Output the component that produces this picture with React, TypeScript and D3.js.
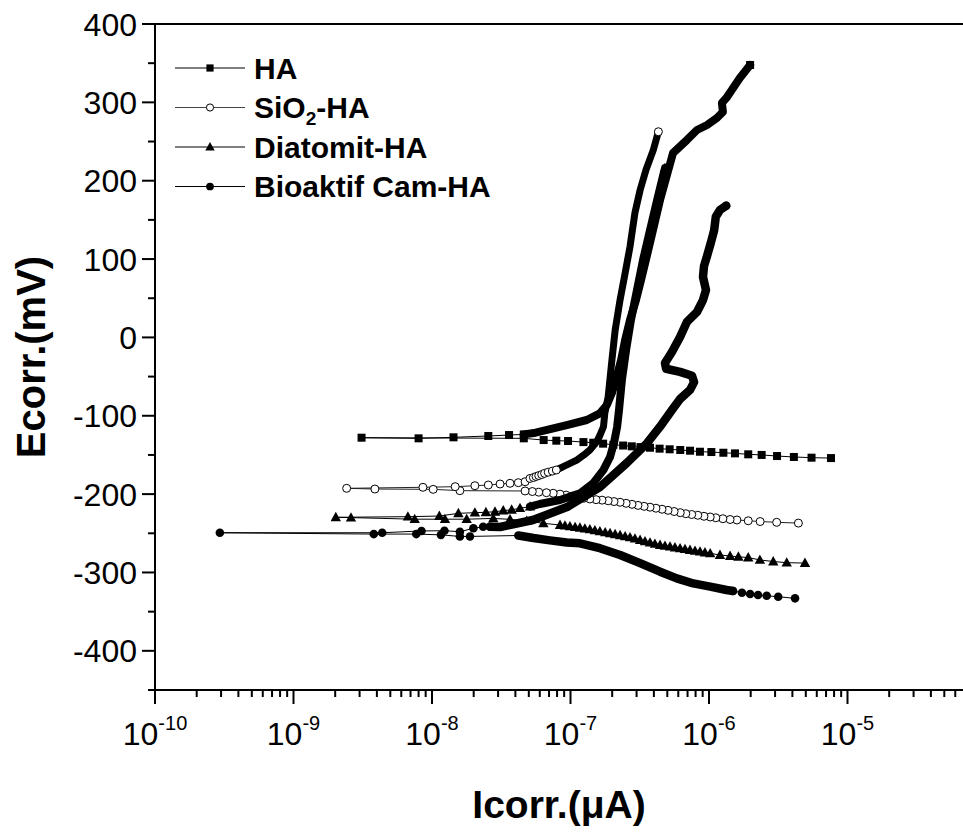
import React from 'react';
import * as d3 from 'd3';

type P = [number, number];

// ---- axis ticks / labels ----
const xTickExps = [-10, -9, -8, -7, -6, -5];
const yTickValues = [400, 300, 200, 100, 0, -100, -200, -300, -400];
const yMinorValues = [350, 250, 150, 50, -50, -150, -250, -350, -450];
const legendLabels = ['HA', 'SiO2-HA', 'Diatomit-HA', 'Bioaktif Cam-HA'];

// ---- HA (filled squares) ----
const haCathodic: P[] = [
  [7.6e-6, -154], [5.5e-6, -153.5], [4.1e-6, -152.6], [3.1e-6, -151.4], [2.4e-6, -150],
  [1.92e-6, -149.2], [1.54e-6, -148], [1.27e-6, -147.2], [1.04e-6, -146.3], [8.6e-7, -145.9],
  [7.3e-7, -144.6], [6.2e-7, -143.7], [5.2e-7, -142.8], [4.4e-7, -142], [3.75e-7, -140.8],
  [3.2e-7, -140], [2.77e-7, -139], [2.4e-7, -138], [2.04e-7, -137], [1.72e-7, -135.6],
  [1.46e-7, -134.4], [1.24e-7, -133.6], [9.6e-8, -132.2], [7.9e-8, -131.8], [6.4e-8, -131],
  [4.6e-8, -128.8], [3.1e-9, -128],
];
const haAnodicNear: P[] = [
  [8.0e-9, -128.8], [1.43e-8, -127.5], [2.55e-8, -125.8], [3.6e-8, -124.6], [4.6e-8, -123.8],
];
const haAnodicRise: P[] = [
  [5.6e-8, -121.6], [9.4e-8, -111.8], [1.31e-7, -105.4], [1.63e-7, -96.9], [1.83e-7, -86.3],
  [1.99e-7, -71], [2.17e-7, -48], [2.32e-7, -28.8], [2.48e-7, -3.3], [2.69e-7, 22.2],
  [2.97e-7, 47.7], [3.23e-7, 73.3], [3.57e-7, 105.2], [3.94e-7, 137.1], [4.43e-7, 175.4],
  [4.97e-7, 207.3], [5.5e-7, 235.4], [6.93e-7, 252], [8.19e-7, 264.7], [9.68e-7, 271.1],
  [1.14e-6, 280], [1.26e-6, 287.7], [1.24e-6, 299.2], [1.35e-6, 306.8], [1.67e-6, 331.1],
  [1.98e-6, 347.7],
];

// ---- SiO2-HA (open circles) ----
const sio2Cathodic: P[] = [
  [4.42e-6, -237], [3.08e-6, -236], [2.34e-6, -235], [1.92e-6, -234], [1.59e-6, -233],
  [1.42e-6, -232.4], [1.26e-6, -231.4], [1.12e-6, -230.2], [1.02e-6, -229.2], [9.2e-7, -228.3],
  [8.3e-7, -227], [7.5e-7, -226], [6.8e-7, -225], [6.2e-7, -223.7], [5.6e-7, -222.2],
  [5.06e-7, -220.7], [4.58e-7, -219.3], [4.14e-7, -218], [3.75e-7, -216.7], [3.4e-7, -215.6],
  [3.07e-7, -214.4], [2.78e-7, -213], [2.52e-7, -211.7], [2.28e-7, -210.4], [2.06e-7, -209.5],
  [1.87e-7, -208.5], [1.69e-7, -207.7], [1.53e-7, -207.1], [1.38e-7, -206.2], [1.25e-7, -205.2],
  [1.13e-7, -204], [1.03e-7, -202.7], [9.3e-8, -201.3], [8.4e-8, -200], [7.5e-8, -198.9],
  [6.7e-8, -198.2], [5.9e-8, -197.5], [5.3e-8, -196.7], [4.7e-8, -196], [1.59e-8, -195.6],
  [1.02e-8, -193.9], [3.87e-9, -193.5], [2.42e-9, -192.6],
];
const sio2AnodicNear: P[] = [
  [8.6e-9, -191.3], [1.47e-8, -190.5], [2.04e-8, -189.3], [2.55e-8, -188.4], [3.1e-8, -187.1],
  [3.66e-8, -186.2], [4.2e-8, -185.4], [4.7e-8, -184.2], [5.1e-8, -180], [5.4e-8, -178.8],
  [5.64e-8, -177.5], [5.9e-8, -176.3], [6.2e-8, -175], [6.5e-8, -173.5], [6.9e-8, -172],
  [7.4e-8, -170.6], [7.9e-8, -169.2],
];
const sio2AnodicRise: P[] = [
  [9.1e-8, -164], [1.11e-7, -156.5], [1.25e-7, -150], [1.38e-7, -143.7], [1.55e-7, -133],
  [1.63e-7, -125], [1.73e-7, -114], [1.77e-7, -96.5], [1.87e-7, -76], [1.98e-7, -33],
  [2.1e-7, 9], [2.28e-7, 48], [2.48e-7, 82], [2.69e-7, 116], [2.92e-7, 159],
  [3.18e-7, 188], [3.51e-7, 214], [3.96e-7, 239], [4.31e-7, 262.5],
];

// ---- Diatomit-HA (filled triangles) ----
const diaCathodic: P[] = [
  [4.93e-6, -288], [3.64e-6, -287.5], [2.91e-6, -286], [2.33e-6, -284], [1.92e-6, -281],
  [1.63e-6, -280], [1.42e-6, -279], [1.2e-6, -277.7], [1.02e-6, -275.6], [9.35e-7, -274.5],
  [8.61e-7, -273.5], [7.93e-7, -272.5], [7.29e-7, -271.3], [6.71e-7, -270.3], [6.18e-7, -269.2],
  [5.68e-7, -268.1], [5.23e-7, -267.1], [4.81e-7, -266.1], [4.43e-7, -265], [4.07e-7, -263.6],
  [3.75e-7, -262], [3.45e-7, -260.4], [3.18e-7, -258.6], [2.92e-7, -256.9], [2.69e-7, -255.3],
  [2.48e-7, -253.9], [2.28e-7, -252.6], [2.1e-7, -251.3], [1.93e-7, -250], [1.78e-7, -248.9],
  [1.63e-7, -247.6], [1.5e-7, -246.3], [1.38e-7, -245], [1.27e-7, -244], [1.17e-7, -243],
  [1.08e-7, -242.1], [9.91e-8, -241.2], [9.12e-8, -240.3], [8.4e-8, -239.4], [6.37e-8, -237.3],
  [4.83e-8, -234.3], [3.66e-8, -232.2], [2.77e-8, -231], [1.78e-8, -232], [1.24e-8, -232],
  [7.5e-9, -232], [2.6e-9, -230], [2.02e-9, -229.6],
];
const diaAnodicNear: P[] = [
  [6.7e-9, -228.8], [1.13e-8, -228], [1.55e-8, -224.5], [2.04e-8, -223.7], [2.45e-8, -223.2],
  [2.85e-8, -222.5], [3.27e-8, -221], [3.76e-8, -220], [4.32e-8, -218], [5.1e-8, -216],
];
const diaAnodicRise: P[] = [
  [6.0e-8, -212.6], [8.4e-8, -207.5], [1.17e-7, -199], [1.46e-7, -186], [1.73e-7, -169],
  [1.93e-7, -152.6], [2.06e-7, -134.8], [2.17e-7, -114.4], [2.24e-7, -92.7], [2.35e-7, -54.4],
  [2.52e-7, -16], [2.73e-7, 22], [3.02e-7, 60.5], [3.34e-7, 98.8], [3.75e-7, 137],
  [4.22e-7, 175], [4.58e-7, 201], [4.81e-7, 216],
];

// ---- Bioaktif Cam-HA (filled circles) ----
const bioCathodicTail: P[] = [
  [4.18e-6, -333], [3.16e-6, -331], [2.61e-6, -329.7], [2.26e-6, -328.8], [1.98e-6, -327.5],
  [1.73e-6, -325.8], [1.49e-6, -323.7],
];
const bioCathodicBand: P[] = [
  [1.34e-6, -322.4], [1.02e-6, -318], [7.7e-7, -314], [5.85e-7, -307.5], [4.43e-7, -299],
  [3.18e-7, -288], [2.28e-7, -277.7], [1.63e-7, -269], [1.17e-7, -262.8], [9.4e-8, -261.7],
  [7.1e-8, -259], [5.4e-8, -256], [4.2e-8, -252.8],
];
const bioCathodicNear: P[] = [
  [1.88e-8, -254], [1.59e-8, -254], [1.16e-8, -252], [7.7e-9, -251], [3.8e-9, -251],
  [2.94e-10, -249.3],
];
const bioAnodicNear: P[] = [
  [4.37e-9, -249.3], [8.4e-9, -247], [1.23e-8, -246.7], [1.59e-8, -248], [1.99e-8, -243.6],
  [2.34e-8, -241.6], [2.62e-8, -241.6],
];
const bioAnodicRise: P[] = [
  [3.1e-8, -242], [5.36e-8, -233], [9.44e-8, -216.5], [1.63e-7, -191], [2.56e-7, -160],
  [3.57e-7, -135], [4.43e-7, -114], [5.4e-7, -92.7], [6.18e-7, -78.6], [7.3e-7, -67],
  [7.8e-7, -57], [7.54e-7, -49], [6.18e-7, -44], [4.9e-7, -40], [4.81e-7, -32.7],
  [5.4e-7, -18.6], [6.18e-7, 0.5], [6.94e-7, 20], [8.19e-7, 32.4], [9.05e-7, 47.7],
  [9.51e-7, 60.5], [9.05e-7, 77], [9.2e-7, 91], [9.68e-7, 104], [1.03e-6, 120.5],
  [1.09e-6, 137], [1.12e-6, 154], [1.2e-6, 162.6], [1.33e-6, 168],
];

const FONT = "'Liberation Sans', Arial, Helvetica, sans-serif";
const W = 963;
const H = 835;

type MarkerType = 'square' | 'openCircle' | 'triangle' | 'circle';

function Marker({ t, cx, cy, s = 1 }: { t: MarkerType; cx: number; cy: number; s?: number }) {
  if (t === 'square') {
    const h = 4 * s;
    return <rect x={cx - h} y={cy - h} width={2 * h} height={2 * h} fill="#000" />;
  }
  if (t === 'openCircle') {
    return <circle cx={cx} cy={cy} r={4 * s} fill="#fff" stroke="#000" strokeWidth={1} />;
  }
  if (t === 'triangle') {
    const a = 5.2 * s;
    return <path d={`M${cx},${cy - a * 1.05}L${cx + a},${cy + a * 0.75}L${cx - a},${cy + a * 0.75}Z`} fill="#000" />;
  }
  return <circle cx={cx} cy={cy} r={4.3 * s} fill="#000" />;
}

export default function App() {
  const x = d3.scaleLog().domain([1e-10, 1e-4]).range([155, 155 + 6 * 138.5]);
  const y = d3.scaleLinear().domain([-450, 400]).range([690, 24]);
  const line = d3.line<P>().x(d => x(d[0])).y(d => y(d[1]));

  const plotRight = 963;

  const series = [
    {
      marker: 'square' as MarkerType, lineColor: '#000',
      all: [...haCathodic, ...haAnodicNear, ...haAnodicRise],
      marked: [...haCathodic, ...haAnodicNear],
      bands: [[haAnodicNear[haAnodicNear.length - 1], ...haAnodicRise]],
      bandWidth: 8,
    },
    {
      marker: 'openCircle' as MarkerType, lineColor: '#222',
      all: [...sio2Cathodic, ...sio2AnodicNear, ...sio2AnodicRise],
      marked: [...sio2Cathodic, ...sio2AnodicNear],
      bands: [[sio2AnodicNear[sio2AnodicNear.length - 1], ...sio2AnodicRise]],
      bandWidth: 7,
    },
    {
      marker: 'triangle' as MarkerType, lineColor: '#000',
      all: [...diaCathodic, ...diaAnodicNear, ...diaAnodicRise],
      marked: [...diaCathodic, ...diaAnodicNear],
      bands: [[diaAnodicNear[diaAnodicNear.length - 1], ...diaAnodicRise]],
      bandWidth: 8,
    },
    {
      marker: 'circle' as MarkerType, lineColor: '#000',
      all: [...bioCathodicTail, ...bioCathodicBand, ...bioCathodicNear, ...bioAnodicNear, ...bioAnodicRise],
      marked: [...bioCathodicTail, ...bioCathodicNear, ...bioAnodicNear],
      bands: [
        [bioCathodicTail[bioCathodicTail.length - 1], ...bioCathodicBand],
        [bioAnodicNear[bioAnodicNear.length - 1], ...bioAnodicRise],
      ],
      bandWidth: 8.5,
    },
  ];

  const xMinor: number[] = [];
  for (let e = -10; e <= -5; e++) {
    for (let k = 2; k <= 9; k++) {
      const v = k * Math.pow(10, e);
      if (x(v) <= plotRight) xMinor.push(v);
    }
  }

  const legendY = [68, 107.5, 147, 186.5];
  const legendMarkers: MarkerType[] = ['square', 'openCircle', 'triangle', 'circle'];

  return (
    <svg width={W} height={H} style={{ position: 'absolute', left: 0, top: 0, background: '#fff' }}
      fontFamily={FONT}>
      <rect x={0} y={0} width={W} height={H} fill="#fff" />

      {series.map((s, i) => (
        <g key={i}>
          <path d={line(s.all) || ''} fill="none" stroke={s.lineColor} strokeWidth={1} />
          {s.bands.map((b, k) => (
            <path key={k} d={line(b as P[]) || ''} fill="none" stroke="#000" strokeWidth={s.bandWidth}
              strokeLinejoin="round" strokeLinecap="round" />
          ))}
          {s.marked.map((d, j) => (
            <Marker key={j} t={s.marker} cx={x(d[0])} cy={y(d[1])} />
          ))}
          {(() => {
            const last = s.all[s.all.length - 1];
            return <Marker t={s.marker} cx={x(last[0])} cy={y(last[1])} />;
          })()}
        </g>
      ))}

      <g stroke="#000" strokeWidth={2} fill="none">
        <line x1={155} y1={24} x2={plotRight} y2={24} />
        <line x1={155} y1={23} x2={155} y2={691} />
        <line x1={154} y1={690} x2={plotRight} y2={690} />
        {yTickValues.map(v => (
          <line key={v} x1={142} y1={y(v)} x2={155} y2={y(v)} />
        ))}
        {yMinorValues.map(v => (
          <line key={v} x1={148} y1={y(v)} x2={155} y2={y(v)} />
        ))}
        {xTickExps.map(e => (
          <line key={e} x1={x(Math.pow(10, e))} y1={690} x2={x(Math.pow(10, e))} y2={704} />
        ))}
        {xMinor.map((v, i) => (
          <line key={i} x1={x(v)} y1={690} x2={x(v)} y2={697} />
        ))}
      </g>

      {yTickValues.map(v => (
        <text key={v} x={137} y={y(v) + 11.5} textAnchor="end" fontSize={32} fill="#000">{v}</text>
      ))}

      {xTickExps.map(e => (
        <text key={e} x={x(Math.pow(10, e))} y={745} textAnchor="middle" fontSize={32} fill="#000">
          10<tspan fontSize={20} dy={-15}>{e}</tspan>
        </text>
      ))}

      <text x={559} y={818} textAnchor="middle" fontSize={39} fontWeight="bold" fill="#000">
        Icorr.(μA)
      </text>
      <text transform="translate(45,357) rotate(-90)" textAnchor="middle" fontSize={40} fontWeight="bold" fill="#000">
        Ecorr.(mV)
      </text>

      {legendLabels.map((lab, i) => (
        <g key={lab}>
          <line x1={175} y1={legendY[i]} x2={245} y2={legendY[i]} stroke={i === 1 ? '#444' : '#000'} strokeWidth={1} />
          <Marker t={legendMarkers[i]} cx={210} cy={legendY[i]} s={0.9} />
          {i === 1 ? (
            <text x={254} y={legendY[i] + 10.5} fontSize={30} fontWeight="bold" fill="#000">
              SiO<tspan fontSize={19} dy={7}>2</tspan><tspan dy={-7}>-HA</tspan>
            </text>
          ) : (
            <text x={254} y={legendY[i] + 10.5} fontSize={30} fontWeight="bold" fill="#000">{lab}</text>
          )}
        </g>
      ))}
    </svg>
  );
}
